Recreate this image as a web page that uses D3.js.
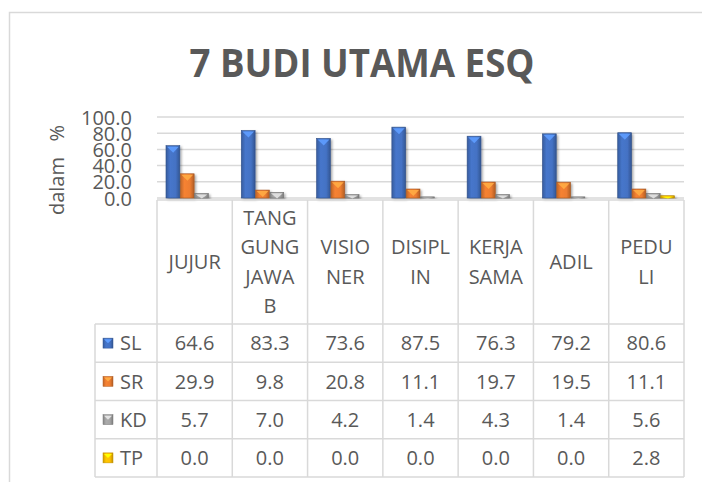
<!DOCTYPE html>
<html>
<head>
<meta charset="utf-8">
<script src="https://cdn.jsdelivr.net/npm/d3@7"></script>
<style>
  body { margin: 0; background: #fff; }
  text { font-family: "Open Sans", sans-serif; fill: #595959; }
</style>
</head>
<body>
<div id="chart"></div>
<script>
// data
var categories = ["JUJUR", "TANGGUNG JAWAB", "VISIONER", "DISIPLIN", "KERJA SAMA", "ADIL", "PEDULI"];
var catLines = [["JUJUR"], ["TANG", "GUNG", "JAWA", "B"], ["VISIO", "NER"], ["DISIPL", "IN"], ["KERJA", "SAMA"], ["ADIL"], ["PEDU", "LI"]];
var seriesNames = ["SL", "SR", "KD", "TP"];
var SL = [64.6, 83.3, 73.6, 87.5, 76.3, 79.2, 80.6];
var SR = [29.9, 9.8, 20.8, 11.1, 19.7, 19.5, 11.1];
var KD = [5.7, 7.0, 4.2, 1.4, 4.3, 1.4, 5.6];
var TP = [0.0, 0.0, 0.0, 0.0, 0.0, 0.0, 2.8];
var yTicks = [0, 20, 40, 60, 80, 100];
var colors = ["#4472C4", "#ED7D31", "#A5A5A5", "#FFC000"];

var seriesValues = [SL, SR, KD, TP];

var width = 702, height = 482;
var svg = d3.select("#chart").append("svg")
    .attr("width", width)
    .attr("height", height);

var defs = svg.append("defs");
colors.forEach(function (c, i) {
    var g = defs.append("linearGradient").attr("id", "grad" + i)
        .attr("x1", "0").attr("x2", "1").attr("y1", "0").attr("y2", "0");
    g.append("stop").attr("offset", "0%").attr("stop-color", d3.color(c).darker(0.6));
    g.append("stop").attr("offset", "30%").attr("stop-color", d3.color(c).brighter(0.1));
    g.append("stop").attr("offset", "70%").attr("stop-color", c);
    g.append("stop").attr("offset", "100%").attr("stop-color", d3.color(c).darker(0.8));
});
var shadow = defs.append("filter").attr("id", "shadow")
    .attr("x", "-30%").attr("y", "-10%").attr("width", "160%").attr("height", "130%");
shadow.append("feDropShadow").attr("dx", 1.5).attr("dy", 1.5).attr("stdDeviation", 1.2)
    .attr("flood-color", "#000").attr("flood-opacity", 0.35);

// outer chart frame
svg.append("rect")
    .attr("x", 9.5).attr("y", 12.5)
    .attr("width", 700).attr("height", 480)
    .attr("fill", "none").attr("stroke", "#d9d9d9").attr("stroke-width", 1.5);

// title
svg.append("text")
    .attr("x", 362).attr("y", 77)
    .attr("text-anchor", "middle")
    .attr("textLength", 345).attr("lengthAdjust", "spacingAndGlyphs")
    .style("font-size", "40px").style("font-weight", "bold")
    .text("7 BUDI UTAMA ESQ");

// scales
var plotLeft = 157, plotRight = 684;
var x = d3.scaleBand().domain(categories).range([plotLeft, plotRight]);
var xs = d3.scaleBand().domain(seriesNames).range([9, x.bandwidth() - 9]);
var y = d3.scaleLinear().domain([0, 100]).range([198, 117]);

// gridlines
svg.append("g").selectAll("line")
    .data(yTicks)
    .enter().append("line")
    .attr("x1", plotLeft).attr("x2", plotRight)
    .attr("y1", function (d) { return y(d); })
    .attr("y2", function (d) { return y(d); })
    .attr("stroke", "#d9d9d9").attr("stroke-width", 1.5);

// y axis labels (they crowd each other in the original too)
var yAxis = d3.axisLeft(y).tickValues(yTicks).tickFormat(d3.format(".1f")).tickSize(0).tickPadding(0);
var ga = svg.append("g").attr("transform", "translate(132,0)").call(yAxis);
ga.select(".domain").remove();
ga.selectAll("text")
    .attr("fill", "#595959")
    .style("font-family", "Open Sans")
    .style("font-size", "20px")
    .attr("dy", "0.35em");

// y axis title
svg.append("text")
    .attr("transform", "translate(64,170) rotate(-90)")
    .attr("text-anchor", "middle")
    .style("font-size", "20px")
    .style("white-space", "pre")
    .text("dalam   %");

// bars
var groups = svg.append("g").selectAll("g")
    .data(categories)
    .enter().append("g")
    .attr("transform", function (d) { return "translate(" + x(d) + ",0)"; });

groups.each(function (cat, ci) {
    var gsel = d3.select(this);
    seriesNames.forEach(function (s, si) {
        var v = seriesValues[si][ci];
        if (v <= 0) return;  // zero values draw nothing
        var bx = xs(s), bw = xs.bandwidth();
        var top = y(v), h = y(0) - y(v);
        gsel.append("rect")
            .attr("x", bx).attr("y", top)
            .attr("width", bw - 0.5).attr("height", h)
            .attr("fill", "url(#grad" + si + ")")
            .attr("stroke", d3.color(colors[si]).darker(1))
            .attr("stroke-width", 0.6)
            .attr("filter", "url(#shadow)");
        // bevel triangle on top
        var th = Math.min(6, h - 0.5);
        if (th > 0.5) {
            gsel.append("path")
                .attr("d", "M" + (bx + 1) + "," + (top + 1) + "L" + (bx + bw - 1.5) + "," + (top + 1) +
                    "L" + (bx + bw / 2) + "," + (top + 1 + th) + "Z")
                .attr("fill", d3.color(colors[si]).brighter(0.9))
                .attr("opacity", 0.9);
        }
    });
});

// data table
var tableTop = 200, headBottom = 324, rowH = 38.25, legLeft = 95;
var lineColor = "#d9d9d9";
var table = svg.append("g").attr("stroke", lineColor).attr("stroke-width", 1.5);

// horizontal lines
table.append("line").attr("x1", plotLeft).attr("x2", plotRight)
    .attr("y1", tableTop).attr("y2", tableTop);
d3.range(seriesNames.length + 1).forEach(function (i) {
    var yy = headBottom + i * rowH;
    table.append("line").attr("x1", legLeft).attr("x2", plotRight)
        .attr("y1", yy).attr("y2", yy);
});
// vertical lines
table.append("line").attr("x1", legLeft).attr("x2", legLeft)
    .attr("y1", headBottom).attr("y2", headBottom + 4 * rowH);
categories.concat(["end"]).forEach(function (c, i) {
    var xx = i < categories.length ? x(c) : plotRight;
    table.append("line").attr("x1", xx).attr("x2", xx)
        .attr("y1", tableTop).attr("y2", headBottom + 4 * rowH);
});

// category header texts
var headMid = (tableTop + headBottom) / 2, lineH = 29.5;
categories.forEach(function (c, i) {
    var lines = catLines[i];
    var t = svg.append("text")
        .attr("text-anchor", "middle")
        .style("font-size", "20px");
    lines.forEach(function (ln, li) {
        t.append("tspan")
            .attr("x", x(c) + x.bandwidth() / 2)
            .attr("y", headMid + (li - (lines.length - 1) / 2) * lineH)
            .attr("dy", "0.36em")
            .text(ln);
    });
});

// rows: legend key + values
seriesNames.forEach(function (s, si) {
    var cy = headBottom + si * rowH + rowH / 2;
    svg.append("rect")
        .attr("x", 103).attr("y", cy - 5)
        .attr("width", 10).attr("height", 10)
        .attr("fill", "url(#grad" + si + ")")
        .attr("stroke", d3.color(colors[si]).darker(0.8)).attr("stroke-width", 0.5);
    svg.append("path")
        .attr("d", "M104," + (cy - 4) + "L112," + (cy - 4) + "L108," + (cy) + "Z")
        .attr("fill", d3.color(colors[si]).brighter(0.9));
    svg.append("text")
        .attr("x", 120).attr("y", cy).attr("dy", "0.36em")
        .style("font-size", "20px")
        .text(s);
    categories.forEach(function (c, ci) {
        svg.append("text")
            .attr("x", x(c) + x.bandwidth() / 2)
            .attr("y", cy).attr("dy", "0.36em")
            .attr("text-anchor", "middle")
            .style("font-size", "20px")
            .text(d3.format(".1f")(seriesValues[si][ci]));
    });
});
</script>
</body>
</html>
